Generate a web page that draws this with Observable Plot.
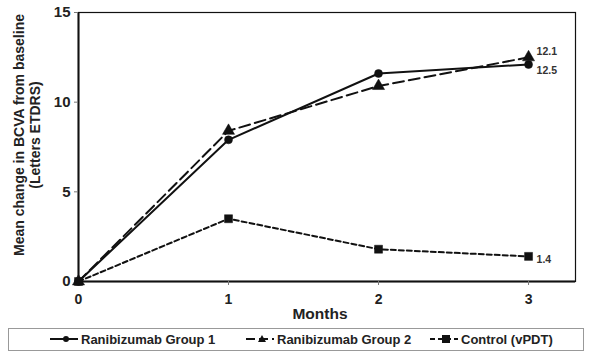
<!DOCTYPE html>
<html><head><meta charset="utf-8">
<script src="https://cdn.jsdelivr.net/npm/d3@7"></script>
<script src="https://cdn.jsdelivr.net/npm/@observablehq/plot@0.6"></script>
<style>
body{margin:0;background:#fff;font-family:"Liberation Sans",Arial,sans-serif;}
#wrap{width:590px;height:359px;position:relative;}
#legend{position:absolute;left:8px;top:328px;width:576px;height:23px;border:1px solid #999;box-sizing:border-box;font-weight:bold;font-size:13px;color:#222;}
.item{display:flex;align-items:center;position:absolute;top:2px;}
.item svg{margin-right:2px;}
</style></head>
<body><div id="wrap"><div id="chart"></div><div id="legend"></div></div>
<script>
const months = [0, 1, 2, 3];
const group1 = [0, 7.9, 11.6, 12.1];
const group2 = [0, 8.4, 10.9, 12.5];
const control = [0, 3.5, 1.8, 1.4];
const seriesNames = ["Ranibizumab Group 1", "Ranibizumab Group 2", "Control (vPDT)"];
const endLabels = ["12.5", "12.1", "1.4"];
const yTicks = [0, 5, 10, 15];

const styles = {
  "Ranibizumab Group 1": {dash: null, symbol: "circle", r: 4, sw: 2},
  "Ranibizumab Group 2": {dash: "11,5", symbol: "triangle", r: 4.5, sw: 2},
  "Control (vPDT)": {dash: "5,3", symbol: "square", r: 4.5, sw: 2}
};
const seriesVals = [group1, group2, control];
const data = seriesNames.flatMap((s, i) => months.map((m, j) => ({series: s, month: m, value: seriesVals[i][j]})));
const labelData = [
  {month: 3, value: group1[3], text: endLabels[0], dy: 6},
  {month: 3, value: group2[3], text: endLabels[1], dy: -6},
  {month: 3, value: control[3], text: endLabels[2], dy: 3}
];

const marks = [];
seriesNames.forEach(s => {
  const st = styles[s];
  const d = data.filter(v => v.series === s);
  marks.push(Plot.line(d, {x: "month", y: "value", stroke: "#111", strokeWidth: st.sw, strokeDasharray: st.dash}));
  marks.push(Plot.dot(d, {x: "month", y: "value", symbol: () => st.symbol, r: st.r, fill: "#111", stroke: "#111", strokeWidth: 0.5}));
});
labelData.forEach(l => {
  marks.push(Plot.text([l], {x: "month", y: "value", text: "text", dx: 8, dy: l.dy, textAnchor: "start", fontSize: 10.5, fontWeight: "bold", fill: "#333"}));
});

const chart = Plot.plot({
  width: 590, height: 322,
  marginLeft: 78, marginRight: 15, marginTop: 12, marginBottom: 41,
  style: {fontFamily: "Liberation Sans, Arial, sans-serif", background: "#fff", color: "#222"},
  x: {domain: [0, 3.313], label: null},
  y: {domain: [0, 15], label: null},
  symbol: {type: "identity"},
  marks: [
    Plot.frame({stroke: "#111", strokeWidth: 1.2}),
    Plot.ruleX([0], {stroke: "#111", strokeWidth: 2}),
    Plot.ruleY([0], {stroke: "#111", strokeWidth: 2}),
    Plot.axisX({ticks: months, tickFormat: d => String(d), tickSize: 4, tickPadding: 9, fontSize: 14, fontWeight: "bold", label: null, stroke: "#777"}),
    Plot.axisY({ticks: yTicks, tickFormat: d => String(d), tickSize: 4, tickPadding: 4, fontSize: 15, fontWeight: "bold", label: null, stroke: "#777"}),
    ...marks
  ]
});
document.getElementById("chart").appendChild(chart);

// Axis titles
const svg = d3.select(chart);
svg.append("text").attr("x", 320).attr("y", 319).attr("text-anchor", "middle")
  .attr("font-size", 15.5).attr("font-weight", "bold").attr("fill", "#222").text("Months");
const yt = svg.append("text").attr("transform", "translate(24,135) rotate(-90)").attr("text-anchor", "middle")
  .attr("font-size", 14).attr("font-weight", "bold").attr("fill", "#222");
yt.append("tspan").attr("x", 0).attr("dy", 0).text("Mean change in BCVA from baseline");
yt.append("tspan").attr("x", 0).attr("dy", 16).text("(Letters ETDRS)");

// Legend
const lg = document.getElementById("legend");
const pos = [40, 236, 420];
seriesNames.forEach((s, i) => {
  const st = styles[s];
  const it = document.createElement("div");
  it.className = "item";
  it.style.left = pos[i] + "px";
  const sym = st.symbol === "circle" ? `<circle cx="17" cy="8" r="3" fill="#111"/>`
    : st.symbol === "triangle" ? `<path d="M17,4 L21,11 L13,11 Z" fill="#111"/>`
    : `<rect x="13" y="4" width="8" height="8" fill="#111"/>`;
  it.innerHTML = `<svg width="30" height="16"><line x1="1" y1="8" x2="29" y2="8" stroke="#111" stroke-width="2" ${st.dash ? `stroke-dasharray="${i===1?'9,4':'5,3'}"` : ""}/>${sym}</svg><span>${s}</span>`;
  lg.appendChild(it);
});
</script></body></html>
